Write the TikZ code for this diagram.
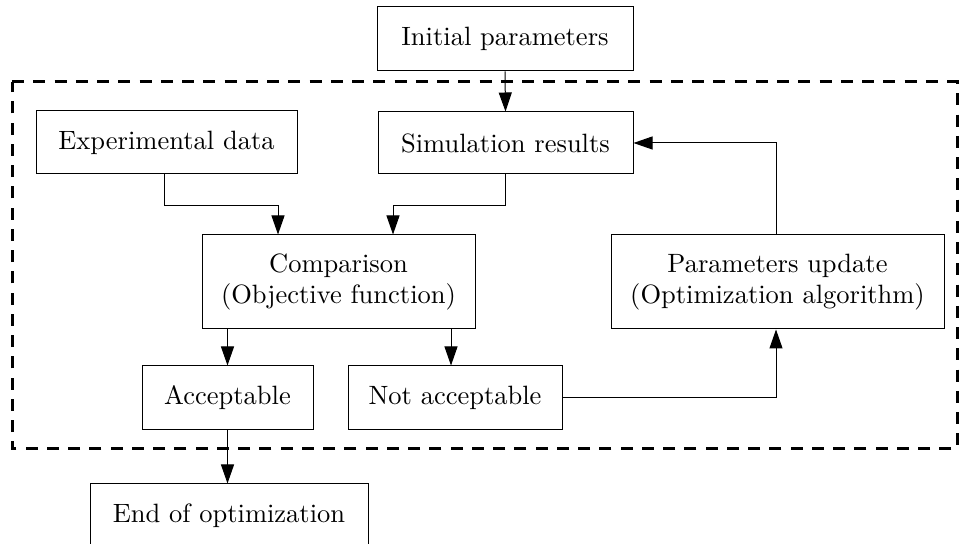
\documentclass[tikz,border=0pt]{standalone}
\usetikzlibrary{arrows.meta}
\begin{document}
\begin{tikzpicture}[x=0.4pt,y=-0.4pt,
  box/.style={draw,line width=0.4pt,rectangle,inner sep=0pt,align=center,
    font=\fontsize{10.6}{12.7}\selectfont},
  arr/.style={line width=0.4pt,-{Triangle[length=7.6pt,width=5.2pt]}},
  frame/.style={line width=1.2pt,dash pattern=on 4.8pt off 3.7pt}]
\useasboundingbox (0,0) rectangle (959,544);
\draw[frame] (12,82) -- (957,82) -- (957,449) -- (12,449) -- cycle;
\node[box,minimum width=256*0.4pt,minimum height=64*0.4pt] (init) at (505,39) {Initial parameters};
\node[box,minimum width=261*0.4pt,minimum height=63*0.4pt] (exp) at (166.5,142.5) {Experimental data};
\node[box,minimum width=255*0.4pt,minimum height=62*0.4pt] (sim) at (505.5,143) {Simulation results};
\node[box,minimum width=273*0.4pt,minimum height=94*0.4pt] (comp) at (338.5,282) {Comparison\\(Objective function)};
\node[box,minimum width=333*0.4pt,minimum height=94*0.4pt] (param) at (777.5,282) {Parameters update\\(Optimization algorithm)};
\node[box,minimum width=171*0.4pt,minimum height=64*0.4pt] (acc) at (227.5,398) {Acceptable};
\node[box,minimum width=214*0.4pt,minimum height=64*0.4pt] (nacc) at (455,398) {Not acceptable};
\node[box,minimum width=278*0.4pt,minimum height=64*0.4pt] (end) at (229,516) {End of optimization};
\coordinate (c1) at (278,206);
\coordinate (c2) at (393,206);
\coordinate (c3) at (451,0);
\coordinate (c4) at (776,0);
\draw[arr] (init.south) -- (sim.north);
\draw[arr] (exp.south -| 164,0) |- (c1) -- (c1 |- comp.north);
\draw[arr] (sim.south) |- (c2) -- (c2 |- comp.north);
\draw[arr] (comp.south -| acc.north) -- (acc.north);
\draw[arr] (c3 |- comp.south) -- (c3 |- nacc.north);
\draw[arr] (nacc.east) -| (c4 |- param.south);
\draw[arr] (c4 |- param.north) |- (sim.east);
\draw[arr] (acc.south) -- (acc.south |- end.north);
\end{tikzpicture}
\end{document}
